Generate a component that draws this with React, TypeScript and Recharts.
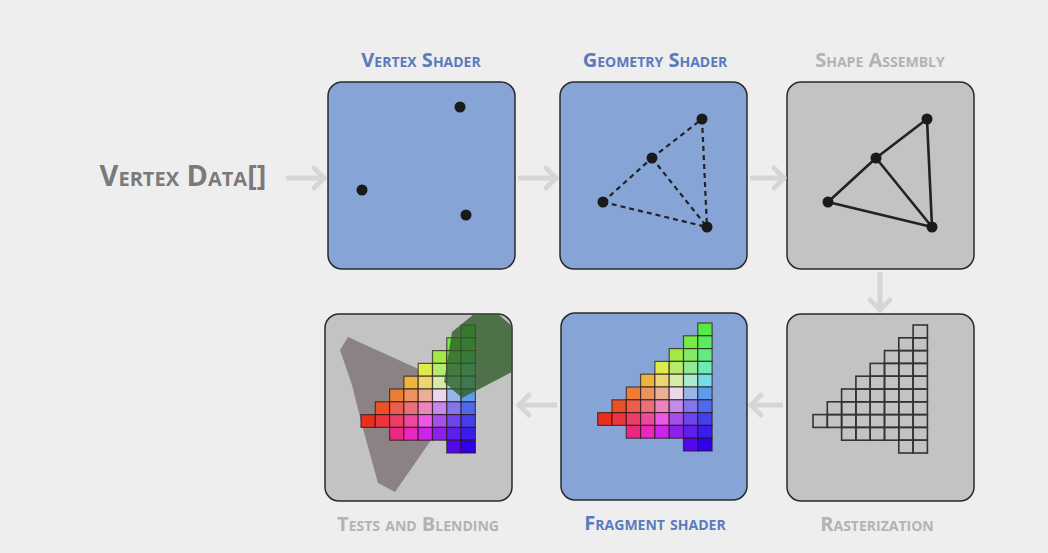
import React from 'react';
import { ScatterChart, Scatter, XAxis, YAxis, ReferenceArea, ReferenceLine, ReferenceDot } from 'recharts';

const W = 1048, H = 553;
const BLUE = '#87a4d6', GREY = '#c3c3c3', ARROW = '#d6d6d6';

const boxes = [
  { x1: 328, x2: 515, y1: 82, y2: 269, fill: BLUE },
  { x1: 560, x2: 747, y1: 82, y2: 269, fill: BLUE },
  { x1: 787, x2: 974, y1: 82, y2: 269, fill: GREY },
  { x1: 325, x2: 512, y1: 314, y2: 501, fill: GREY },
  { x1: 561, x2: 747, y1: 313, y2: 500, fill: BLUE },
  { x1: 787, x2: 974, y1: 314, y2: 501, fill: GREY },
];

const titles = [
  { x: 421, y: 60, text: 'Vertex Shader', color: '#5a7bbd', size: 20 },
  { x: 655, y: 60, text: 'Geometry Shader', color: '#5a7bbd', size: 20 },
  { x: 880, y: 60, text: 'Shape Assembly', color: '#b3b3b3', size: 20 },
  { x: 418, y: 524, text: 'Tests and Blending', color: '#b3b3b3', size: 20 },
  { x: 655, y: 523, text: 'Fragment shader', color: '#5a7bbd', size: 20 },
  { x: 877, y: 524, text: 'Rasterization', color: '#b3b3b3', size: 20 },
  { x: 183, y: 176, text: 'Vertex Data[]', color: '#7a7a7a', size: 29 },
];

const arrows = [
  [286, 178, 324, 178],
  [518, 178, 556, 178],
  [750, 178, 784, 178],
  [880, 272, 880, 310],
  [783, 405, 751, 405],
  [557, 405, 519, 405],
];

const vertexPts = [{ x: 460, y: 107 }, { x: 362, y: 190 }, { x: 466, y: 215 }];
const geomPts = [{ x: 702, y: 119 }, { x: 652, y: 158 }, { x: 603, y: 202 }, { x: 707, y: 227 }];
const shapePts = [{ x: 927, y: 119 }, { x: 876, y: 158 }, { x: 828, y: 202 }, { x: 932, y: 227 }];
const edges = [[2, 1], [1, 0], [0, 3], [2, 3], [1, 3]];

const gridCols = [[7, 7], [6, 7], [5, 8], [4, 8], [3, 8], [2, 8], [1, 9], [0, 9]];
const CW = 14.3, CH = 12.8;
const fragOrigin = { x: 597.7, y: 323 };
const testOrigin = { x: 361, y: 325 };
const rastOrigin = { x: 813, y: 325 };

const fanPoly = [[340, 350], [348, 337], [425, 372], [445, 420], [395, 492], [378, 483], [362, 425], [352, 385]];
const greenPoly = [[452, 332], [474, 314], [498, 314], [512, 326], [512, 372], [462, 398], [444, 382]];
const fanAnchor = [{ x: fanPoly[0][0], y: fanPoly[0][1] }];
const greenAnchor = [{ x: greenPoly[0][0], y: greenPoly[0][1] }];

function cellColor(c: number, r: number) {
  const P = [c + 0.5, r + 0.5];
  const A = [0.5, 7.5], B = [7.5, 0.5], C = [7.5, 9.5];
  const det = (B[1] - C[1]) * (A[0] - C[0]) + (C[0] - B[0]) * (A[1] - C[1]);
  let wa = ((B[1] - C[1]) * (P[0] - C[0]) + (C[0] - B[0]) * (P[1] - C[1])) / det;
  let wb = ((C[1] - A[1]) * (P[0] - C[0]) + (A[0] - C[0]) * (P[1] - C[1])) / det;
  let wc = 1 - wa - wb;
  wa = Math.max(0, wa); wb = Math.max(0, wb); wc = Math.max(0, wc);
  const R = [235, 45, 30], G = [90, 250, 70], Bl = [50, 0, 245];
  const col = [0, 1, 2].map(i => wa * R[i] + wb * G[i] + wc * Bl[i]);
  const m = Math.max(...col);
  const out = col.map(v => Math.round(v / m * 235));
  return `rgb(${out[0]},${out[1]},${out[2]})`;
}

function makeCells(o: { x: number; y: number }) {
  const cells: any[] = [];
  gridCols.forEach(([r0, r1], c) => {
    for (let r = r0; r <= r1; r++) {
      cells.push({ x: o.x + c * CW + CW / 2, y: o.y + r * CH + CH / 2, color: cellColor(c, r) });
    }
  });
  return cells;
}
const fragCells = makeCells(fragOrigin);
const testCells = makeCells(testOrigin);
const rastCells = makeCells(rastOrigin);

const cellShape = (outline: boolean) => (p: any) => (
  <rect x={p.cx - CW / 2} y={p.cy - CH / 2} width={CW} height={CH}
    fill={outline ? 'none' : p.payload.color} stroke={outline ? '#333' : 'rgba(40,20,20,0.7)'} strokeWidth={outline ? 1.6 : 1.2} />
);

const polyShape = (poly: number[][], fill: string, opacity: number) => (p: any) => {
  const ox = p.cx - poly[0][0], oy = p.cy - poly[0][1];
  return <polygon points={poly.map(q => `${q[0] + ox},${q[1] + oy}`).join(' ')} fill={fill} opacity={opacity} />;
};

function arrowHead(a: number[]) {
  const [x1, y1, x2, y2] = a;
  const dx = Math.sign(x2 - x1), dy = Math.sign(y2 - y1);
  const s = 10;
  if (dx !== 0) return [[x2 - dx * s, y2 - s], [x2 - dx * s, y2 + s]];
  return [[x2 - s, y2 - dy * s], [x2 + s, y2 - dy * s]];
}

export default function App() {
  return (
    <div style={{ position: 'absolute', left: 0, top: 0, width: W, height: H, background: '#eeeeee' }}>
      <ScatterChart width={W} height={H} margin={{ top: 0, right: 0, bottom: 0, left: 0 }}>
        <XAxis type="number" dataKey="x" domain={[0, W]} hide allowDataOverflow />
        <YAxis type="number" dataKey="y" domain={[0, H]} reversed hide allowDataOverflow />
        {arrows.map((a, i) => (
          <ReferenceLine key={'a' + i} segment={[{ x: a[0], y: a[1] }, { x: a[2], y: a[3] }]} stroke={ARROW} strokeWidth={5} ifOverflow="visible" />
        ))}
        {arrows.map((a, i) => {
          const h = arrowHead(a);
          return h.map((p, j) => (
            <ReferenceLine key={'h' + i + j} segment={[{ x: p[0], y: p[1] }, { x: a[2], y: a[3] }]} stroke={ARROW} strokeWidth={5} strokeLinecap="round" ifOverflow="visible" />
          ));
        })}
        {boxes.map((b, i) => (
          <ReferenceArea key={'b' + i} x1={b.x1} x2={b.x2} y1={b.y1} y2={b.y2} fill={b.fill} fillOpacity={1}
            stroke="#2a2a2a" strokeWidth={1.5} radius={14} ifOverflow="visible" />
        ))}
        {edges.map(([p, q], i) => (
          <ReferenceLine key={'g' + i} segment={[geomPts[p], geomPts[q]]} stroke="#222" strokeWidth={2.2} strokeDasharray="5 4" ifOverflow="visible" />
        ))}
        {edges.map(([p, q], i) => (
          <ReferenceLine key={'s' + i} segment={[shapePts[p], shapePts[q]]} stroke="#222" strokeWidth={2.6} ifOverflow="visible" />
        ))}
        {[...vertexPts, ...geomPts, ...shapePts].map((p, i) => (
          <ReferenceDot key={'d' + i} x={p.x} y={p.y} r={5.5} fill="#1a1a1a" stroke="none" ifOverflow="visible" />
        ))}
        <Scatter data={fanAnchor} shape={polyShape(fanPoly, '#857c7c', 0.9)} isAnimationActive={false} />
        <Scatter data={fragCells} shape={cellShape(false)} isAnimationActive={false} />
        <Scatter data={testCells} shape={cellShape(false)} isAnimationActive={false} />
        <Scatter data={rastCells} shape={cellShape(true)} isAnimationActive={false} />
        <Scatter data={greenAnchor} shape={polyShape(greenPoly, '#2e5a28', 0.78)} isAnimationActive={false} />
        {titles.map((t, i) => (
          <ReferenceDot key={'t' + i} x={t.x} y={t.y} r={0.01} fill="none" stroke="none" ifOverflow="visible"
            label={{ value: t.text, position: 'center', fill: t.color, fontSize: t.size, fontWeight: 700,
              fontFamily: 'Open Sans, sans-serif', style: { fontVariant: 'small-caps' } }} />
        ))}
      </ScatterChart>
    </div>
  );
}
